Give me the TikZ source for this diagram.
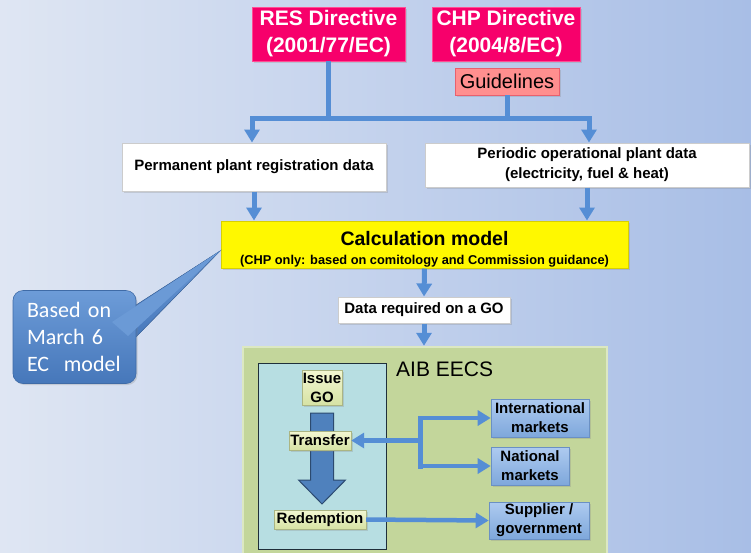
\documentclass[tikz,border=0pt]{standalone}
\usepackage{fontspec}
\setmainfont{Liberation Sans}
\newfontfamily\calfont{Carlito}
\usetikzlibrary{arrows.meta,shadows}
\definecolor{bgL}{HTML}{DFE6F3}
\definecolor{bgR}{HTML}{A8BEE6}
\definecolor{mag}{HTML}{F7006B}
\definecolor{magB}{HTML}{FF4D94}
\definecolor{guid}{HTML}{FF8F8F}
\definecolor{guidB}{HTML}{E8606E}
\definecolor{conn}{HTML}{558ED5}
\definecolor{yel}{HTML}{FFF800}
\definecolor{yelB}{HTML}{D8D000}
\definecolor{callT}{HTML}{6D9CD8}
\definecolor{callB}{HTML}{4677BA}
\definecolor{aib}{HTML}{C3D69B}
\definecolor{aibB}{HTML}{DCE8C2}
\definecolor{inner}{HTML}{B7DEE2}
\definecolor{innerB}{HTML}{1F2F3A}
\definecolor{smT}{HTML}{F3F7D2}
\definecolor{smB}{HTML}{D6E2A4}
\definecolor{mkT}{HTML}{AECBF0}
\definecolor{mkB}{HTML}{7EA7DB}
\definecolor{mkD}{HTML}{6A90C4}
\definecolor{bigA}{HTML}{4F81BD}
\definecolor{bigB}{HTML}{2C4A70}
\newcommand\fsz[2]{\fontsize{#1}{#2}\selectfont}
\begin{document}
\begin{tikzpicture}[x=1pt,y=-1pt,
  box/.style={rectangle, inner sep=0pt, align=center},
  shad/.style={drop shadow={opacity=0.25, shadow xshift=1.5pt, shadow yshift=-1.5pt}},
  dirbox/.style={box, shad, fill=mag, draw=magB, line width=0.8pt, text=white,
     minimum height=54pt, font=\fsz{21}{27}\bfseries},
  whitebox/.style={box, shad, fill=white, draw=black!20, line width=1pt, font=\fsz{15}{20}\bfseries},
  smallbox/.style={box, shad, top color=smT, bottom color=smB, draw=smB!80!black, line width=0.4pt,
     font=\fsz{15}{19}\bfseries},
  mkbox/.style={box, shad, top color=mkT, bottom color=mkB, draw=mkD, line width=0.6pt,
     font=\fsz{15}{19}\bfseries},
  cline/.style={draw=conn, line width=5pt},
  carrow/.style={draw=conn, line width=5pt, -{Triangle[width=15pt,length=13pt]}},
  sarrow/.style={draw=conn, line width=4.5pt, -{Triangle[width=15pt,length=13pt]}}
]
\useasboundingbox (0,0) rectangle (751,552);
\clip (0,0) rectangle (751,552);
\shade[left color=bgL, right color=bgR] (0,0) rectangle (751,552);

% top directives
\node[dirbox, minimum width=153pt] (res) at (328.5,34) {RES Directive\\(2001/77/EC)};
\node[dirbox, minimum width=148pt] (chp) at (506,34) {CHP Directive\\(2004/8/EC)};
\node[box, shad, fill=guid, draw=guidB, line width=0.8pt, minimum width=104pt, minimum height=27pt,
      font=\fsz{20}{24}] (guid) at (507,81.5) {Guidelines};

% data boxes
\node[whitebox, minimum width=264pt, minimum height=48pt] (perm) at (254,167) {Permanent plant registration data};
\node[whitebox, minimum width=324pt, minimum height=44pt] (peri) at (587,165) {Periodic operational plant data\\(electricity, fuel \& heat)};

% connectors at top
\coordinate (jl) at (252,118);
\coordinate (jr) at (589,118);
\draw[cline] (res.south) -- (res.south |- jl);
\draw[cline] (guid.south) -- (guid.south |- jl);
\draw[cline, line cap=rect] (jl) -- (jr);
\draw[carrow] (jl) -- (jl |- perm.north);
\draw[carrow] (jr) -- (jr |- peri.north);

% calculation model
\node[box, shad, fill=yel, draw=yelB, line width=1pt, minimum width=407pt, minimum height=47pt,
      font=\fsz{12.8}{19}\bfseries] (calc) at (424.5,244.5)
  {\rule{0pt}{24pt}{\fsz{19.5}{22}\bfseries Calculation model}\\(CHP only: based on comitology and Commission guidance)};
\draw[carrow] (perm.south) -- (perm.south |- calc.north);
\draw[carrow] (peri.south) -- (peri.south |- calc.north);

% data required
\node[whitebox, minimum width=172pt, minimum height=26pt] (data) at (424,310) {Data required on a GO};
\draw[carrow] (calc.south) -- (data.north);

% callout
\coordinate (ctip) at (220,251);
\fill[top color=callT, bottom color=callB, draw=callB!90!black, line width=0.5pt]
  (116,318) -- (ctip) -- (133,340) -- cycle;
\node[box, shad, rounded corners=10pt, top color=callT, bottom color=callB, draw=callB!90!black, line width=0.6pt,
      minimum width=123pt, minimum height=93pt, text=white, align=left, text width=95pt,
      font=\calfont\fsz{22}{27}] (call) at (74.5,337) {Based on\\March 6\\EC\ \ model};
\fill[callT!95!callB] (112,322) -- (ctip) -- (128,336) -- cycle;

% AIB EECS
\node[box, fill=aib, draw=aibB, line width=2.5pt, minimum width=364pt, minimum height=215pt] (aib) at (425,454.5) {};
\draw[carrow] (data.south) -- (data.south |- aib.north);
\node[font=\fsz{21}{24}, anchor=west, inner sep=0pt] (aibt) at (396,369) {AIB EECS};
\node[box, fill=inner, draw=innerB, line width=1pt, minimum width=128pt, minimum height=186pt] (inn) at (322,456) {};

\node[smallbox, minimum width=40pt, minimum height=35pt] (issue) at (322,387.5) {Issue\\GO};
\node[smallbox, minimum width=92pt, minimum height=19pt] (redem) at (320,519.5) {Redemption};

% big down arrow from issue to redemption
\coordinate (ba) at (issue.south |- 0,413);
\filldraw[fill=bigA, draw=bigB, line width=1pt]
  ([xshift=-11.5pt]ba) -- ([xshift=11.5pt]ba) -- ([xshift=11.5pt,yshift=-67pt]ba) -- ([xshift=23.5pt,yshift=-67pt]ba)
  -- ([yshift=-91pt]ba) -- ([xshift=-23.5pt,yshift=-67pt]ba) -- ([xshift=-11.5pt,yshift=-67pt]ba) -- cycle;

\node[smallbox, minimum width=62pt, minimum height=19pt] (trans) at (320,440.5) {Transfer};

\node[mkbox, minimum width=98pt, minimum height=38pt] (intl) at (540,418) {International\\markets};
\node[mkbox, minimum width=78pt, minimum height=38pt] (natl) at (530,466) {National\\markets};
\node[mkbox, minimum width=100pt, minimum height=37pt] (supp) at (539,520.5) {Supplier /\\government};

\coordinate (jx) at (420,440.5);
\draw[cline, line cap=rect] (jx |- intl.west) -- (jx |- natl.west);
\draw[sarrow] (jx |- intl.west) -- (intl.west);
\draw[sarrow] (jx |- natl.west) -- (natl.west);
\draw[sarrow] (jx) -- (trans.east);
\draw[sarrow] (redem.east) -- (supp.west);
\end{tikzpicture}
\end{document}
